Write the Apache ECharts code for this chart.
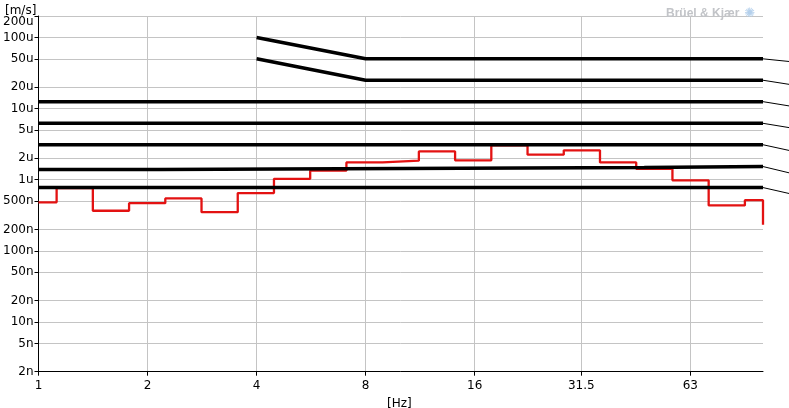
<!DOCTYPE html>
<html>
<head>
<meta charset="utf-8">
<script src="https://cdn.jsdelivr.net/npm/echarts@6/dist/echarts.min.js"></script>
<style>html,body{margin:0;padding:0;background:#fff;}#c{width:789px;height:408px;}</style>
</head>
<body>
<div id="c"></div>
<script>
// ---- data ----
const xTicks = [1, 2, 4, 8, 16, 31.5, 63];
const yTicks = [2e-9, 5e-9, 1e-8, 2e-8, 5e-8, 1e-7, 2e-7, 5e-7, 1e-6, 2e-6, 5e-6, 1e-5, 2e-5, 5e-5, 1e-4, 2e-4];
const xMin = 1, xMax = 100, yMin = 2e-9, yMax = 2e-4;

// 1/3-octave band centres (Hz) and measured velocity (m/s)
const bands = [1, 1.25, 1.6, 2, 2.5, 3.15, 4, 5, 6.3, 8, 10, 12.5, 16, 20, 25, 31.5, 40, 50, 63, 80, 100, 125];
const spectrum = [0.48e-6, 0.76e-6, 0.366e-6, 0.468e-6, 0.546e-6, 0.35e-6, 0.648e-6, 1.03e-6, 1.34e-6, 1.75e-6,
  1.85e-6, 2.5e-6, 1.87e-6, 3.05e-6, 2.25e-6, 2.59e-6, 1.75e-6, 1.42e-6, 0.98e-6, 0.435e-6, 0.516e-6, 0.232e-6];

// criterion curves: [freq, value]
const curveA = [[4, 100e-6], [8, 50e-6], [100, 50e-6]];
const curveB = [[4, 50e-6], [8, 25e-6], [100, 25e-6]];
const curveC = [[1, 12.5e-6], [100, 12.5e-6]];
const curveD = [[1, 6.2e-6], [100, 6.2e-6]];
const curveE = [[1, 3.1e-6], [100, 3.1e-6]];
const curveF = [[1, 1.39e-6], [2.15, 1.39e-6], [2.15, 1.44e-6], [10, 1.44e-6], [10, 1.48e-6], [47, 1.48e-6], [47, 1.53e-6], [100, 1.53e-6]];
const curveG = [[1, 0.775e-6], [100, 0.775e-6]];
// leader lines toward curve labels outside the view (start value at plot edge, end value at canvas edge)
const leaderStart = [50e-6, 25e-6, 12.5e-6, 6.2e-6, 3.1e-6, 1.53e-6, 0.775e-6];
const leaderEnd = [45.9e-6, 21.9e-6, 10.9e-6, 5.4e-6, 2.58e-6, 1.25e-6, 0.64e-6];

// ---- build ----
function bandEdges(c) {
  const n = Math.round(10 * Math.log10(c));
  return [Math.pow(10, (n - 0.5) / 10), Math.pow(10, (n + 0.5) / 10)];
}
const clampX = v => Math.min(xMax, Math.max(xMin, v));
const stepData = [];
bands.forEach((c, i) => {
  const e = bandEdges(c);
  stepData.push([clampX(e[0]), spectrum[i]]);
  stepData.push([clampX(e[1]), spectrum[i]]);
});

function siFmt(v) {
  const units = [[1e-3, 'm'], [1e-6, 'u'], [1e-9, 'n']];
  for (const [s, u] of units) {
    if (v >= s * 0.999) { return String(Math.round(v / s * 1000) / 1000) + u; }
  }
  return String(v);
}

const blackStyle = { color: '#000', width: 3.5 };
function crit(d) {
  return { type: 'line', data: d, symbol: 'none', lineStyle: blackStyle, z: 4, silent: true, animation: false };
}
const series = [
  { type: 'line', data: stepData, symbol: 'none', lineStyle: { color: '#e31212', width: 2.3 }, z: 3, animation: false },
  crit(curveA), crit(curveB), crit(curveC), crit(curveD), crit(curveE), crit(curveF), crit(curveG)
];
leaderStart.forEach((v, i) => {
  series.push({ type: 'line', xAxisIndex: 1, yAxisIndex: 1, data: [[0, v], [1, leaderEnd[i]]],
    symbol: 'none', lineStyle: { color: '#000', width: 1 }, z: 4, animation: false, silent: true });
});

const font = 'DejaVu Sans';
const chart = echarts.init(document.getElementById('c'), null, { renderer: 'canvas' });
chart.setOption({
  animation: false,
  backgroundColor: '#fff',
  title: [
    { text: '[m/s]', left: 0, top: 0, textStyle: { fontFamily: font, fontSize: 12, fontWeight: 'normal', color: '#000' } },
    { text: '[Hz]', left: 382, top: 393, textStyle: { fontFamily: font, fontSize: 12, fontWeight: 'normal', color: '#000' } },
    { text: '{t|Brüel & Kjær} {i|✺}', left: 661, top: 0,
      textStyle: { rich: { t: { fontFamily: 'Liberation Sans', fontSize: 12, fontWeight: 'bold', color: '#c2c4c8' },
                            i: { fontFamily: font, fontSize: 13, color: '#b4d0ec' } } } }
  ],
  grid: [
    { left: 36, top: 16, width: 727, height: 355.7, containLabel: false },
    { left: 763, top: 16, width: 26, height: 355.7, containLabel: false }
  ],
  xAxis: [{
    type: 'log', logBase: 2, min: xMin, max: xMax, gridIndex: 0,
    axisLine: { show: true, lineStyle: { color: '#000', width: 1 } },
    axisTick: { show: true, length: 4, lineStyle: { color: '#000' }, customValues: xTicks },
    axisLabel: { customValues: xTicks, color: '#000', fontFamily: font, fontSize: 12, margin: 8,
      formatter: v => String(Math.round(v * 10) / 10) },
    splitLine: { show: true, lineStyle: { color: '#c4c4c4', width: 1 } },
    minorSplitLine: { show: false }
  }, {
    type: 'value', min: 0, max: 1, gridIndex: 1, show: false
  }],
  yAxis: [{
    type: 'log', logBase: 10, min: yMin, max: yMax, gridIndex: 0,
    axisLine: { show: true, lineStyle: { color: '#000', width: 1 } },
    axisTick: { show: true, length: 4, lineStyle: { color: '#000' }, customValues: yTicks },
    axisLabel: { customValues: yTicks, color: '#000', fontFamily: font, fontSize: 12, margin: 5,
      formatter: v => siFmt(v), verticalAlignMaxLabel: 'top' },
    splitLine: { show: true, lineStyle: { color: '#c4c4c4', width: 1 } }
  }, {
    type: 'log', logBase: 10, min: yMin, max: yMax, gridIndex: 1, show: false
  }],
  series: series
});
</script>
</body>
</html>
